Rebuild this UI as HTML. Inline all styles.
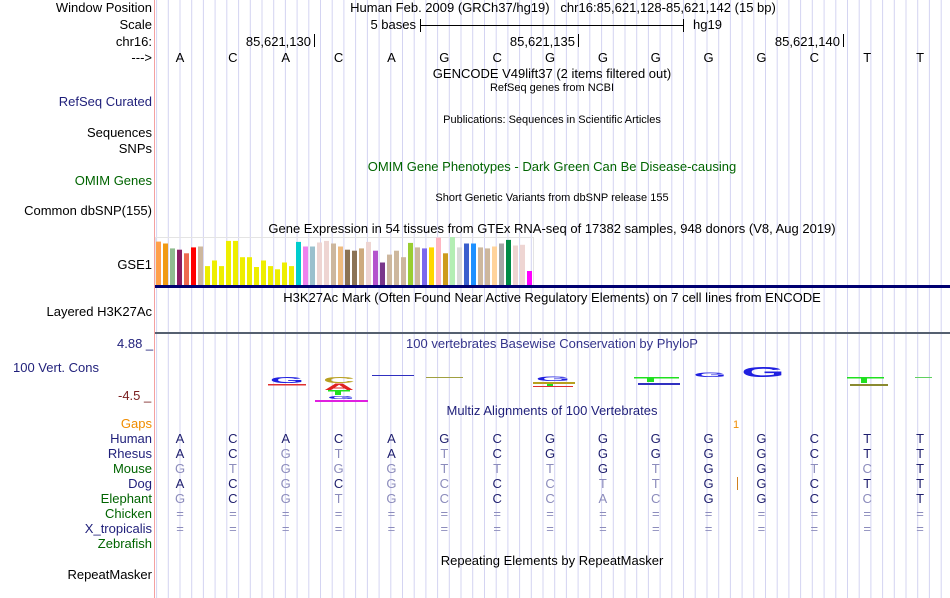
<!DOCTYPE html>
<html><head><meta charset="utf-8"><style>
body{margin:0;background:#fff;width:950px;height:598px;overflow:hidden;font-family:"Liberation Sans",Arial,sans-serif}
svg{position:absolute;left:0;top:0}
text{font-family:"Liberation Sans",Arial,sans-serif}
</style></head><body>
<svg id="s" width="950" height="598">
<g id="grid"></g>
<line x1="154.5" y1="0" x2="154.5" y2="598" stroke="#f4a0a0"/>
<g font-size="13" fill="#000" text-anchor="end">
<text x="152" y="12">Window Position</text>
<text x="152" y="29">Scale</text>
<text x="152" y="46">chr16:</text>
<text x="152" y="62">---&gt;</text>
<text x="152" y="106" fill="#1f1f7a">RefSeq Curated</text>
<text x="152" y="137">Sequences</text>
<text x="152" y="153">SNPs</text>
<text x="152" y="185" fill="#006400">OMIM Genes</text>
<text x="152" y="215">Common dbSNP(155)</text>
<text x="152" y="269">GSE1</text>
<text x="152" y="316">Layered H3K27Ac</text>
<text x="117" y="348" fill="#1f1f7a" text-anchor="start">4.88 _</text>
<text x="99" y="372" fill="#1f1f7a">100 Vert. Cons</text>
<text x="118" y="400" fill="#7a1f1f" text-anchor="start">-4.5 _</text>
<text x="152" y="428" fill="#f08c00">Gaps</text>
<text x="152" y="443" fill="#1f1f7a">Human</text>
<text x="152" y="458" fill="#1f1f7a">Rhesus</text>
<text x="152" y="473" fill="#006400">Mouse</text>
<text x="152" y="488" fill="#1f1f7a">Dog</text>
<text x="152" y="503" fill="#006400">Elephant</text>
<text x="152" y="518" fill="#006400">Chicken</text>
<text x="152" y="533" fill="#1f1f7a">X_tropicalis</text>
<text x="152" y="548" fill="#006400">Zebrafish</text>
<text x="152" y="579">RepeatMasker</text>
</g>
<g font-size="13" text-anchor="middle">
<text x="563" y="12" xml:space="preserve">Human Feb. 2009 (GRCh37/hg19)   chr16:85,621,128-85,621,142 (15 bp)</text>
<text x="552" y="78">GENCODE V49lift37 (2 items filtered out)</text>
<text x="552" y="91" font-size="11">RefSeq genes from NCBI</text>
<text x="552" y="123" font-size="11">Publications: Sequences in Scientific Articles</text>
<text x="552" y="171" fill="#006400">OMIM Gene Phenotypes - Dark Green Can Be Disease-causing</text>
<text x="552" y="201" font-size="11">Short Genetic Variants from dbSNP release 155</text>
<text x="552" y="233">Gene Expression in 54 tissues from GTEx RNA-seq of 17382 samples, 948 donors (V8, Aug 2019)</text>
<text x="552" y="302">H3K27Ac Mark (Often Found Near Active Regulatory Elements) on 7 cell lines from ENCODE</text>
<text x="552" y="348" fill="#33338a">100 vertebrates Basewise Conservation by PhyloP</text>
<text x="552" y="415" fill="#1f1f7a">Multiz Alignments of 100 Vertebrates</text>
<text x="552" y="565">Repeating Elements by RepeatMasker</text>
</g>
<g font-size="13">
<text x="416" y="29" text-anchor="end">5 bases</text>
<line x1="420.5" y1="19" x2="420.5" y2="32" stroke="#000"/>
<line x1="420" y1="25.5" x2="684" y2="25.5" stroke="#000"/>
<line x1="683.5" y1="19" x2="683.5" y2="32" stroke="#000"/>
<text x="693" y="29">hg19</text>
</g>
<g font-size="13" text-anchor="end">
<text x="311" y="46">85,621,130</text><line x1="314.5" y1="34" x2="314.5" y2="47" stroke="#000"/>
<text x="575" y="46">85,621,135</text><line x1="578.5" y1="34" x2="578.5" y2="47" stroke="#000"/>
<text x="840" y="46">85,621,140</text><line x1="843.5" y1="34" x2="843.5" y2="47" stroke="#000"/>
</g>
<g id="bases" font-size="13" text-anchor="middle"></g>
<rect x="155.5" y="237.5" width="378" height="48" fill="none" stroke="#e4e4e4"/>
<g id="gtex"></g>
<rect x="155" y="285" width="795" height="3" fill="#000070"/>
<rect x="155" y="332" width="795" height="2" fill="#556070"/>
<g font-weight="bold">
<text x="0" y="0" font-size="20" fill="#2020e0" text-anchor="middle" transform="translate(287,383) scale(2.2,0.4)">G</text>
<rect x="268" y="384" width="38" height="1.5" fill="#e03030"/>
<text x="0" y="0" font-size="20" fill="#b8a020" text-anchor="middle" transform="translate(339,383) scale(2.2,0.4)">C</text>
<text x="0" y="0" font-size="20" fill="#e02020" text-anchor="middle" transform="translate(339,390) scale(2.1,0.45)">A</text>
<rect x="328" y="390" width="22" height="1.5" fill="#20e020"/><rect x="335" y="390" width="6" height="5" fill="#20e020"/>
<text x="0" y="0" font-size="20" fill="#2020e0" text-anchor="middle" transform="translate(341,399) scale(1.7,0.22)">G</text>
<rect x="315" y="400" width="53" height="2" fill="#e020e0"/>
<rect x="372" y="375" width="42" height="1" fill="#3030c0"/>
<rect x="426" y="377" width="37" height="1" fill="#a0a040"/>
<text x="0" y="0" font-size="20" fill="#2020e0" text-anchor="middle" transform="translate(553,381) scale(2.2,0.3)">G</text>
<rect x="533" y="382" width="42" height="2" fill="#b8a020"/><rect x="547" y="384" width="6" height="2" fill="#20e020"/>
<rect x="533" y="386" width="40" height="1" fill="#e03030"/>
<rect x="634" y="377" width="45" height="1.5" fill="#20e020"/><rect x="647" y="377" width="7" height="5" fill="#20e020"/>
<rect x="638" y="383" width="42" height="2" fill="#3030c0"/>
<text x="0" y="0" font-size="20" fill="#2020e0" text-anchor="middle" transform="translate(710,377) scale(2.1,0.32)">G</text>
<text x="0" y="0" font-size="20" fill="#2020e0" text-anchor="middle" transform="translate(763,377) scale(2.8,0.75)">G</text>
<rect x="847" y="377" width="37" height="1.5" fill="#20e020"/><rect x="861" y="377" width="6" height="6" fill="#20e020"/>
<rect x="850" y="384" width="38" height="2" fill="#8a8a30"/>
<rect x="915" y="377" width="17" height="1" fill="#60d060"/>
</g>
<text x="736" y="428" font-size="11" fill="#f08c00" text-anchor="middle">1</text>
<line x1="737.5" y1="477" x2="737.5" y2="490" stroke="#d08020"/>
<g id="multiz" font-size="13" text-anchor="middle"></g>
</svg>
<script>
const baseSeq = ["A","C","A","C","A","G","C","G","G","G","G","G","C","T","T"];
const gtexValues = [133,127,112,108,97,115,118,58,75,58,135,135,85,85,55,75,58,48,69,58,132,118,118,130,135,127,118,108,105,112,132,105,69,93,105,85,129,115,112,115,145,97,147,115,127,127,115,112,118,127,138,121,123,43];
const gtexColors = ["#ff9f4a","#f09a14","#8fbc8f","#8b1c62","#ee6a50","#ff0000","#cdb79e","#eeee00","#eeee00","#eeee00","#eeee00","#eeee00","#eeee00","#eeee00","#eeee00","#eeee00","#eeee00","#eeee00","#eeee00","#eeee00","#00cdcd","#ee82ee","#9ac0cd","#eed5d2","#eed5d2","#cdb79e","#eebb80","#8b7355","#8b7355","#cdaa7d","#eed5d2","#b452cd","#7a378b","#cdb79e","#cdb79e","#cdb79e","#9acd32","#cdb79e","#7b68ee","#ffd700","#ffb6c1","#cd9b1d","#b4eeb4","#d9d9d9","#3a5fcd","#1e90ff","#cdb79e","#cdb79e","#ffd39b","#a6a6a6","#008b45","#eed5d2","#eed5d2","#ff00ff"];
const species = ["Human","Rhesus","Mouse","Dog","Elephant","Chicken","X_tropicalis"];
const aligned = [
 "ACACAGCGGGGGCTT",
 "ACGTATCGGGGGCTT",
 "GTGGGTTTGTGGTCT",
 "ACGCGCCCTTGGCTT",
 "GCGTGCCCACGGCCT",
 "===============",
 "==============="];
const matchMask = [
 "111111111111111",
 "110010111111111",
 "000000001011001",
 "110100100011111",
 "010000100011101",
 "000000000000000",
 "000000000000000"];
const NS="http://www.w3.org/2000/svg";
const bx = i => 180 + i*52.86;
const grid=document.getElementById('grid');
for(let x=180-2*11.71;x<950;x+=11.71){
 const l=document.createElementNS(NS,'line');
 
 
 l.setAttribute('x1',x.toFixed(1));l.setAttribute('x2',x.toFixed(1));
 l.setAttribute('y1',0);l.setAttribute('y2',598);
 l.setAttribute('stroke','#d4d4f2');l.setAttribute('stroke-width','1');
 grid.appendChild(l);
}
const bases=document.getElementById('bases');
baseSeq.forEach((b,i)=>{
 const t=document.createElementNS(NS,'text');
 
 
 t.setAttribute('x',bx(i));t.setAttribute('y',62);t.textContent=b;bases.appendChild(t);
});
const gtex=document.getElementById('gtex');
const maxV=150, baseY=285, plotH=49;
gtexValues.forEach((v,i)=>{
 const r=document.createElementNS(NS,'rect');
 
 
 const h=v/maxV*plotH;
 r.setAttribute('x',156+i*7);r.setAttribute('width',5);
 r.setAttribute('y',(baseY-h).toFixed(1));r.setAttribute('height',h.toFixed(1));
 r.setAttribute('fill',gtexColors[i]);gtex.appendChild(r);
});
const mz=document.getElementById('multiz');
species.forEach((sp,r)=>{
 for(let i=0;i<15;i++){
  const t=document.createElementNS(NS,'text');
  
  
  t.setAttribute('x',bx(i));t.setAttribute('y',443+r*15);
  t.setAttribute('fill',matchMask[r][i]==='1'?'#1f1f6e':'#8c8cbc');
  t.textContent=aligned[r][i];mz.appendChild(t);
 }
});
</script>
</body></html>
